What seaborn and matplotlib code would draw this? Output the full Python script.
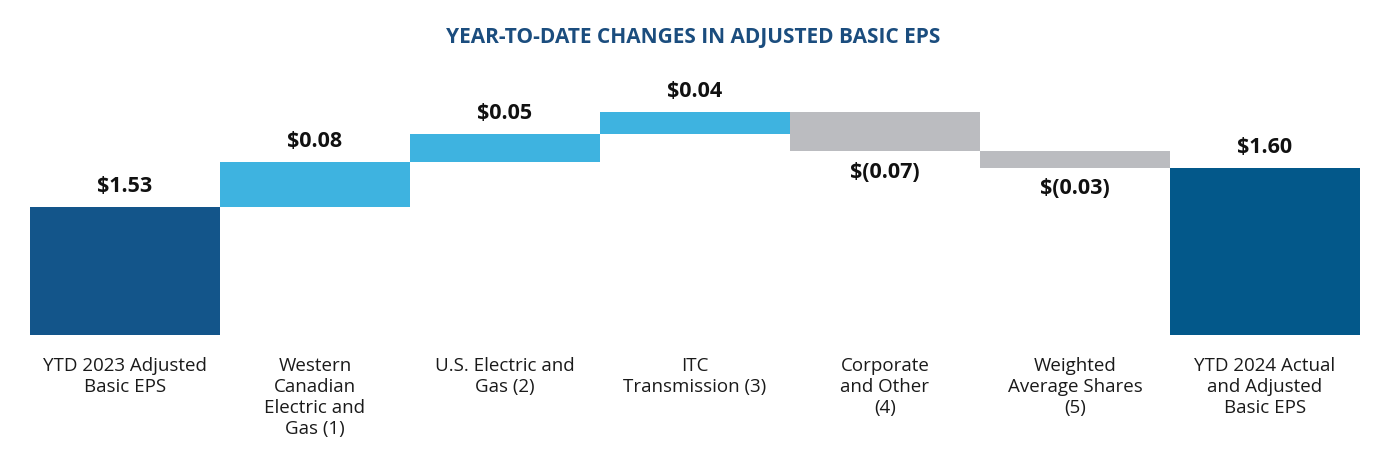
import numpy as np
import matplotlib
matplotlib.use("Agg")
import matplotlib.pyplot as plt
import seaborn as sns

# data
categories = [
    "YTD 2023 Adjusted\nBasic EPS",
    "Western\nCanadian\nElectric and\nGas (1)",
    "U.S. Electric and\nGas (2)",
    "ITC\nTransmission (3)",
    "Corporate\nand Other\n(4)",
    "Weighted\nAverage Shares\n(5)",
    "YTD 2024 Actual\nand Adjusted\nBasic EPS",
]
start_eps = 1.53
changes = [0.08, 0.05, 0.04, -0.07, -0.03]
end_eps = 1.60
value_labels = ["$1.53", "$0.08", "$0.05", "$0.04", "$(0.07)", "$(0.03)", "$1.60"]

DARK_START = "#13558A"
DARK_END = "#03588A"
UP = "#3EB3E0"
DOWN = "#BBBCC0"

# waterfall geometry from the data
levels = np.concatenate([[start_eps], start_eps + np.cumsum(changes)])
tops = [start_eps]
lows = [0.0]
for i, c in enumerate(changes):
    tops.append(max(levels[i], levels[i + 1]))
    lows.append(min(levels[i], levels[i + 1]))
tops.append(end_eps)
lows.append(0.0)
colors = [DARK_START] + [UP if c > 0 else DOWN for c in changes] + [DARK_END]

sns.set_style("white")
plt.rcParams["font.family"] = ["Open Sans", "DejaVu Sans"]

fig = plt.figure(figsize=(13.9, 4.7), dpi=100)
ax = fig.add_axes([30 / 1390, 135 / 470, 1330 / 1390, 0.5926])

sns.barplot(x=categories, y=tops, hue=categories, palette=colors, saturation=1,
            width=1.0, linewidth=0, legend=False, ax=ax)
# mask the lower part of floating bars
sns.barplot(x=categories, y=lows, color="white", saturation=1,
            width=1.0, linewidth=0, ax=ax)

ax.set_ylim(1.30, 1.80)
ax.set_xlim(-0.5, 6.5)
sns.despine(ax=ax, left=True, bottom=True)
ax.set_yticks([])
ax.set_ylabel("")
ax.tick_params(axis="x", length=0, pad=16, labelsize=13.5, labelcolor="#1a1a1a")
for t in ax.get_xticklabels():
    t.set_linespacing(1.22)

# value labels
for i, lab in enumerate(value_labels):
    neg = i in (4, 5)
    y = lows[i] if neg else tops[i]
    ax.annotate(lab, (i, y), xytext=(0, -15 if neg else 15), textcoords="offset points",
                ha="center", va="center", fontsize=15.5, fontweight="bold", color="#111111")

fig.text(0.4985, 1 - 37 / 470, "YEAR-TO-DATE CHANGES IN ADJUSTED BASIC EPS",
         ha="center", va="center", fontsize=15, fontweight="bold", color="#1B4D7E")

fig.savefig("out.png", dpi=100)
